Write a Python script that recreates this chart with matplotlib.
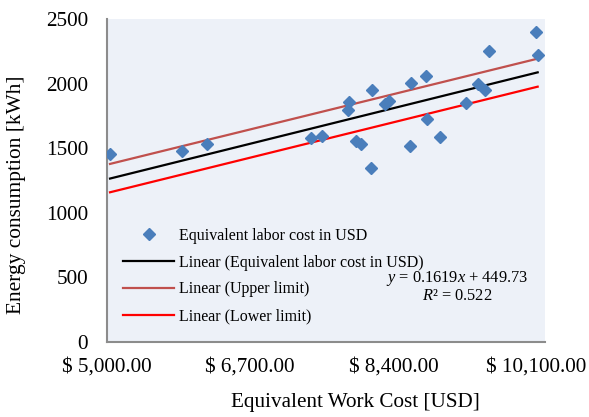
import matplotlib
matplotlib.use("Agg")
import matplotlib.pyplot as plt
import numpy as np
from matplotlib.ticker import FuncFormatter

# Data
work_cost = [5036, 5890, 6191, 7418, 7556, 7877, 7865, 7952, 8012, 8142, 8130,
             8300, 8348, 8605, 8597, 8783, 8795, 8953, 9258, 9408, 9488, 9539,
             10093, 10113]
energy = [1455, 1478, 1532, 1582, 1594, 1855, 1796, 1556, 1532, 1950, 1349,
          1842, 1863, 2005, 1517, 2056, 1728, 1589, 1850, 1997, 1950, 2252,
          2397, 2221]
trend_coef = [0.1619, 449.73]
upper_coef = [0.1605, 570.0]
lower_coef = [0.1610, 348.0]
x_ticks = [5000, 6700, 8400, 10100]
y_ticks = [0, 500, 1000, 1500, 2000, 2500]

plt.rcParams['font.family'] = ['Liberation Serif', 'DejaVu Serif']
plt.rcParams['mathtext.fontset'] = 'custom'
plt.rcParams['mathtext.rm'] = 'Liberation Serif'
plt.rcParams['mathtext.it'] = 'Liberation Serif:italic'

W, H = 589, 417
fig = plt.figure(figsize=(W / 100, H / 100), dpi=100)
ax = fig.add_axes([107 / W, 1 - 342 / H, 438 / W, 323 / H])
ax.set_facecolor('#EDF1F8')

xs = np.array([min(work_cost), max(work_cost)])
ax.plot(work_cost, energy, linestyle='none', marker='D', ms=6.2,
        color='#4A7EBB', label='Equivalent labor cost in USD', zorder=3)
ax.plot(xs, np.polyval(trend_coef, xs), color='black', lw=1.6,
        label='Linear (Equivalent labor cost in USD)', zorder=2)
ax.plot(xs, np.polyval(upper_coef, xs), color='#C0504D', lw=1.6,
        label='Linear (Upper limit)', zorder=2)
ax.plot(xs, np.polyval(lower_coef, xs), color='#FF0000', lw=1.6,
        label='Linear (Lower limit)', zorder=2)

ax.set_xlim(5000, 10200)
ax.set_ylim(0, 2500)
ax.set_xticks(x_ticks)
ax.set_yticks(y_ticks)
ax.xaxis.set_major_formatter(FuncFormatter(lambda v, p: f"$ {v:,.2f}"))
ax.tick_params(axis='both', length=0, labelsize=15.2)
ax.tick_params(axis='x', pad=11.5)
ax.tick_params(axis='y', pad=13.7)

for s in ['top', 'right']:
    ax.spines[s].set_visible(False)
for s in ['left', 'bottom']:
    ax.spines[s].set_color('#8C8C8C')
    ax.spines[s].set_linewidth(1.5)

ax.set_xlabel('Equivalent Work Cost [USD]', fontsize=15.2)
ax.xaxis.label.set_va('center')
ax.xaxis.set_label_coords((355 - 107) / 438, (342 - 403) / 323)
ax.set_ylabel('Energy consumption [kWh]', fontsize=15.4)
ax.yaxis.label.set_va('center')
ax.yaxis.set_label_coords((17 - 107) / 438, (342 - 195) / 323)

ax.legend(loc='lower left', bbox_to_anchor=(0.011, 0.02), frameon=False,
          fontsize=11.5, handlelength=3.2, handletextpad=0.3,
          labelspacing=0.68, borderaxespad=0.3)

ax.text(457, H - 278, r'$y$ = 0.1619$x$ + 449.73', transform=None,
        fontsize=11.8, ha='center', va='center')
ax.text(457, H - 296, r'$R$² = 0.522', fontsize=11.8, ha='center',
        va='center', transform=None)

fig.savefig('out.png', dpi=100)
